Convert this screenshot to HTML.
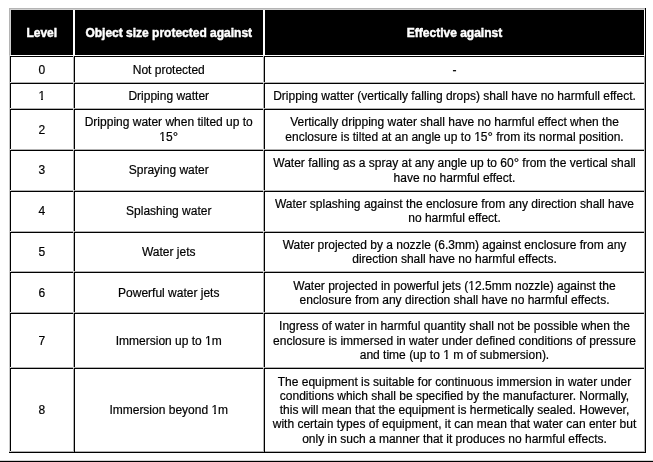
<!DOCTYPE html>
<html><head><meta charset="utf-8"><title>IP water protection levels</title>
<style>
html,body{margin:0;padding:0;background:#fff;}
body{width:653px;height:462px;overflow:hidden;position:relative;font-family:"Liberation Sans",sans-serif;font-size:12px;color:#000;}
svg{position:absolute;left:0;top:0;}
#t{position:absolute;left:0;top:0;width:653px;height:462px;will-change:transform;}
.l{position:absolute;height:14px;line-height:14px;text-align:center;white-space:nowrap;-webkit-text-stroke:0.2px #000;}
.o{display:inline-block;clip-path:polygon(0 0,100% 0,100% 9.9px,4.45px 9.9px,4.45px 100%,2.7px 100%,2.7px 9.9px,0 9.9px);}
.d{font-size:13.5px;line-height:0;}
.l.h{color:#fff;font-weight:bold;-webkit-text-stroke:0.45px #fff;}
</style></head><body>
<svg shape-rendering="crispEdges" width="653" height="462" viewBox="0 0 653 462">
<rect x="0" y="0" width="653" height="462" fill="#fff"/>
<rect x="9" y="8" width="636" height="1" fill="#b4b4b4"/>
<rect x="10" y="9" width="635" height="1" fill="#d0d0d0"/>
<rect x="9" y="8" width="1" height="47" fill="#b4b4b4"/>
<rect x="10" y="9" width="1" height="46" fill="#d0d0d0"/>
<rect x="9" y="55" width="1" height="397" fill="#c8c8c8"/>
<rect x="11" y="10" width="62" height="45" fill="#000"/>
<rect x="75" y="10" width="188" height="45" fill="#000"/>
<rect x="265" y="10" width="379" height="45" fill="#000"/>
<rect x="10" y="82" width="634" height="1" fill="#b2b2b2"/>
<rect x="10" y="108" width="634" height="1" fill="#b2b2b2"/>
<rect x="10" y="149" width="634" height="1" fill="#b2b2b2"/>
<rect x="10" y="190" width="634" height="1" fill="#b2b2b2"/>
<rect x="10" y="231" width="634" height="1" fill="#b2b2b2"/>
<rect x="10" y="271" width="634" height="1" fill="#b2b2b2"/>
<rect x="10" y="312" width="634" height="1" fill="#b2b2b2"/>
<rect x="10" y="367" width="634" height="1" fill="#b2b2b2"/>
<rect x="9" y="451" width="636" height="1" fill="#b2b2b2"/>
<rect x="73" y="56" width="1" height="396" fill="#b2b2b2"/>
<rect x="263" y="56" width="1" height="396" fill="#b2b2b2"/>
<rect x="10" y="56" width="634" height="1" fill="#000"/>
<rect x="10" y="83" width="634" height="1" fill="#000"/>
<rect x="10" y="109" width="634" height="1" fill="#000"/>
<rect x="10" y="150" width="634" height="1" fill="#000"/>
<rect x="10" y="191" width="634" height="1" fill="#000"/>
<rect x="10" y="232" width="634" height="1" fill="#000"/>
<rect x="10" y="272" width="634" height="1" fill="#000"/>
<rect x="10" y="313" width="634" height="1" fill="#000"/>
<rect x="10" y="368" width="634" height="1" fill="#000"/>
<rect x="10" y="56" width="1" height="396" fill="#000"/>
<rect x="74" y="56" width="1" height="396" fill="#000"/>
<rect x="264" y="56" width="1" height="396" fill="#000"/>
<rect x="73" y="82" width="1" height="1" fill="#e4e4e4"/>
<rect x="73" y="83" width="1" height="1" fill="#a8a8a8"/>
<rect x="74" y="82" width="1" height="1" fill="#a8a8a8"/>
<rect x="263" y="82" width="1" height="1" fill="#e4e4e4"/>
<rect x="263" y="83" width="1" height="1" fill="#a8a8a8"/>
<rect x="264" y="82" width="1" height="1" fill="#a8a8a8"/>
<rect x="73" y="108" width="1" height="1" fill="#e4e4e4"/>
<rect x="73" y="109" width="1" height="1" fill="#a8a8a8"/>
<rect x="74" y="108" width="1" height="1" fill="#a8a8a8"/>
<rect x="263" y="108" width="1" height="1" fill="#e4e4e4"/>
<rect x="263" y="109" width="1" height="1" fill="#a8a8a8"/>
<rect x="264" y="108" width="1" height="1" fill="#a8a8a8"/>
<rect x="73" y="149" width="1" height="1" fill="#e4e4e4"/>
<rect x="73" y="150" width="1" height="1" fill="#a8a8a8"/>
<rect x="74" y="149" width="1" height="1" fill="#a8a8a8"/>
<rect x="263" y="149" width="1" height="1" fill="#e4e4e4"/>
<rect x="263" y="150" width="1" height="1" fill="#a8a8a8"/>
<rect x="264" y="149" width="1" height="1" fill="#a8a8a8"/>
<rect x="73" y="190" width="1" height="1" fill="#e4e4e4"/>
<rect x="73" y="191" width="1" height="1" fill="#a8a8a8"/>
<rect x="74" y="190" width="1" height="1" fill="#a8a8a8"/>
<rect x="263" y="190" width="1" height="1" fill="#e4e4e4"/>
<rect x="263" y="191" width="1" height="1" fill="#a8a8a8"/>
<rect x="264" y="190" width="1" height="1" fill="#a8a8a8"/>
<rect x="73" y="231" width="1" height="1" fill="#e4e4e4"/>
<rect x="73" y="232" width="1" height="1" fill="#a8a8a8"/>
<rect x="74" y="231" width="1" height="1" fill="#a8a8a8"/>
<rect x="263" y="231" width="1" height="1" fill="#e4e4e4"/>
<rect x="263" y="232" width="1" height="1" fill="#a8a8a8"/>
<rect x="264" y="231" width="1" height="1" fill="#a8a8a8"/>
<rect x="73" y="271" width="1" height="1" fill="#e4e4e4"/>
<rect x="73" y="272" width="1" height="1" fill="#a8a8a8"/>
<rect x="74" y="271" width="1" height="1" fill="#a8a8a8"/>
<rect x="263" y="271" width="1" height="1" fill="#e4e4e4"/>
<rect x="263" y="272" width="1" height="1" fill="#a8a8a8"/>
<rect x="264" y="271" width="1" height="1" fill="#a8a8a8"/>
<rect x="73" y="312" width="1" height="1" fill="#e4e4e4"/>
<rect x="73" y="313" width="1" height="1" fill="#a8a8a8"/>
<rect x="74" y="312" width="1" height="1" fill="#a8a8a8"/>
<rect x="263" y="312" width="1" height="1" fill="#e4e4e4"/>
<rect x="263" y="313" width="1" height="1" fill="#a8a8a8"/>
<rect x="264" y="312" width="1" height="1" fill="#a8a8a8"/>
<rect x="73" y="367" width="1" height="1" fill="#e4e4e4"/>
<rect x="73" y="368" width="1" height="1" fill="#a8a8a8"/>
<rect x="74" y="367" width="1" height="1" fill="#a8a8a8"/>
<rect x="263" y="367" width="1" height="1" fill="#e4e4e4"/>
<rect x="263" y="368" width="1" height="1" fill="#a8a8a8"/>
<rect x="264" y="367" width="1" height="1" fill="#a8a8a8"/>
<rect x="10" y="82" width="1" height="1" fill="#dcdcdc"/>
<rect x="10" y="108" width="1" height="1" fill="#dcdcdc"/>
<rect x="10" y="149" width="1" height="1" fill="#dcdcdc"/>
<rect x="10" y="190" width="1" height="1" fill="#dcdcdc"/>
<rect x="10" y="231" width="1" height="1" fill="#dcdcdc"/>
<rect x="10" y="271" width="1" height="1" fill="#dcdcdc"/>
<rect x="10" y="312" width="1" height="1" fill="#dcdcdc"/>
<rect x="10" y="367" width="1" height="1" fill="#dcdcdc"/>
<rect x="10" y="451" width="1" height="1" fill="#dcdcdc"/>
<rect x="644" y="56" width="1" height="396" fill="#b2b2b2"/>
<rect x="73" y="56" width="1" height="1" fill="#c8c8c8"/>
<rect x="263" y="56" width="1" height="1" fill="#c8c8c8"/>
<rect x="645" y="8" width="1" height="445" fill="#000"/>
<rect x="9" y="452" width="637" height="1" fill="#000"/>
<rect x="0" y="460" width="653" height="1" fill="#d2d2d2"/>
<rect x="0" y="461" width="653" height="1" fill="#000"/>
</svg>
<div id="t">
<div class="l h" style="left:10px;top:26px;width:63.5px">Level</div>
<div class="l h" style="left:74.5px;top:26px;width:188.5px">Object size protected against</div>
<div class="l h" style="left:264.5px;top:26px;width:380.0px">Effective against</div>
<div class="l" style="left:10px;top:63px;width:63.5px">0</div>
<div class="l" style="left:74.5px;top:63px;width:188.5px">Not protected</div>
<div class="l" style="left:264.5px;top:63px;width:380.0px">-</div>
<div class="l" style="left:10px;top:89px;width:63.5px"><span class="o">1</span></div>
<div class="l" style="left:74.5px;top:89px;width:188.5px">Dripping watter</div>
<div class="l" style="left:264.5px;top:89px;width:380.0px">Dripping watter (vertically falling drops) shall have no harmfull effect.</div>
<div class="l" style="left:10px;top:123px;width:63.5px">2</div>
<div class="l" style="left:74.5px;top:115px;width:188.5px">Dripping water when tilted up to</div>
<div class="l" style="left:74.5px;top:130px;width:188.5px"><span class="o">1</span>5<span class="d">°</span></div>
<div class="l" style="left:264.5px;top:115px;width:380.0px">Vertically dripping water shall have no harmful effect when the</div>
<div class="l" style="left:264.5px;top:130px;width:380.0px">enclosure is tilted at an angle up to <span class="o">1</span>5<span class="d">°</span> from its normal position.</div>
<div class="l" style="left:10px;top:163px;width:63.5px">3</div>
<div class="l" style="left:74.5px;top:163px;width:188.5px">Spraying water</div>
<div class="l" style="left:264.5px;top:156px;width:380.0px">Water falling as a spray at any angle up to 60<span class="d">°</span> from the vertical shall</div>
<div class="l" style="left:264.5px;top:171px;width:380.0px">have no harmful effect.</div>
<div class="l" style="left:10px;top:204px;width:63.5px">4</div>
<div class="l" style="left:74.5px;top:204px;width:188.5px">Splashing water</div>
<div class="l" style="left:264.5px;top:197px;width:380.0px">Water splashing against the enclosure from any direction shall have</div>
<div class="l" style="left:264.5px;top:211px;width:380.0px">no harmful effect.</div>
<div class="l" style="left:10px;top:245px;width:63.5px">5</div>
<div class="l" style="left:74.5px;top:245px;width:188.5px">Water jets</div>
<div class="l" style="left:264.5px;top:238px;width:380.0px">Water projected by a nozzle (6.3mm) against enclosure from any</div>
<div class="l" style="left:264.5px;top:252px;width:380.0px">direction shall have no harmful effects.</div>
<div class="l" style="left:10px;top:286px;width:63.5px">6</div>
<div class="l" style="left:74.5px;top:286px;width:188.5px">Powerful water jets</div>
<div class="l" style="left:264.5px;top:279px;width:380.0px">Water projected in powerful jets (<span class="o">1</span>2.5mm nozzle) against the</div>
<div class="l" style="left:264.5px;top:293px;width:380.0px">enclosure from any direction shall have no harmful effects.</div>
<div class="l" style="left:10px;top:334px;width:63.5px">7</div>
<div class="l" style="left:74.5px;top:334px;width:188.5px">Immersion up to <span class="o">1</span>m</div>
<div class="l" style="left:264.5px;top:319px;width:380.0px">Ingress of water in harmful quantity shall not be possible when the</div>
<div class="l" style="left:264.5px;top:334px;width:380.0px">enclosure is immersed in water under defined conditions of pressure</div>
<div class="l" style="left:264.5px;top:348px;width:380.0px">and time (up to <span class="o">1</span> m of submersion).</div>
<div class="l" style="left:10px;top:403px;width:63.5px">8</div>
<div class="l" style="left:74.5px;top:403px;width:188.5px">Immersion beyond <span class="o">1</span>m</div>
<div class="l" style="left:264.5px;top:375px;width:380.0px">The equipment is suitable for continuous immersion in water under</div>
<div class="l" style="left:264.5px;top:389px;width:380.0px">conditions which shall be specified by the manufacturer. Normally,</div>
<div class="l" style="left:264.5px;top:403px;width:380.0px">this will mean that the equipment is hermetically sealed. However,</div>
<div class="l" style="left:264.5px;top:417px;width:380.0px">with certain types of equipment, it can mean that water can enter but</div>
<div class="l" style="left:264.5px;top:432px;width:380.0px">only in such a manner that it produces no harmful effects.</div>
</div>
</body></html>
